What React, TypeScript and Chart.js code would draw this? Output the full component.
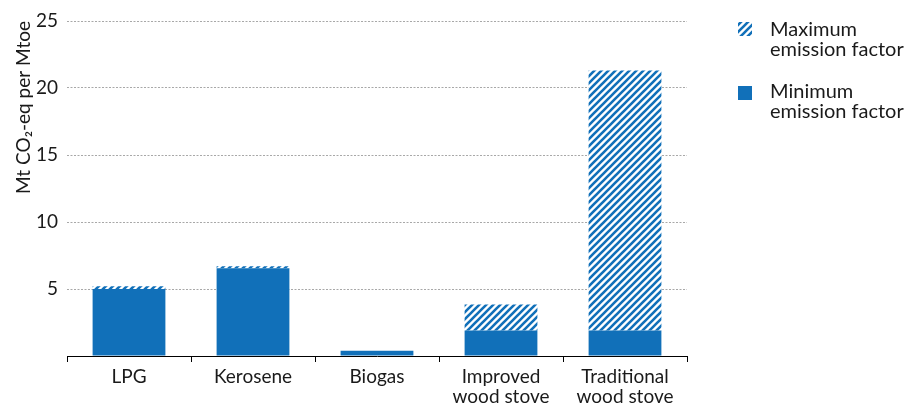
import React, { useEffect, useRef } from 'react';
import { Chart, registerables } from 'chart.js';

Chart.register(...registerables);

const categories: string[][] = [['LPG'], ['Kerosene'], ['Biogas'], ['Improved', 'wood stove'], ['Traditional', 'wood stove']];
const minimumFactor = [5.0, 6.55, 0.4, 1.9, 1.9];
const maximumFactor = [5.2, 6.7, 0.4, 3.85, 21.3];
const maxLegend = ['Maximum', 'emission factor'];
const minLegend = ['Minimum', 'emission factor'];
const yTitle = 'Mt CO\u2082-eq per Mtoe';

const BLUE = '#1170b9';
const FONT = 'Lato, "Open Sans", sans-serif';

function makeHatch(color: string): CanvasPattern | string {
  const s = 7;
  const c = document.createElement('canvas');
  c.width = s;
  c.height = s;
  const g = c.getContext('2d');
  if (!g) return color;
  g.fillStyle = '#ffffff';
  g.fillRect(0, 0, s, s);
  g.strokeStyle = color;
  g.lineWidth = 2.6;
  g.beginPath();
  for (const k of [0, s, 2 * s]) {
    g.moveTo(k - s - 2, s + 2);
    g.lineTo(k + 2, -2);
  }
  g.stroke();
  const p = g.createPattern(c, 'repeat');
  return p || color;
}

export default function App() {
  const ref = useRef<HTMLCanvasElement>(null);

  useEffect(() => {
    if (!ref.current) return;
    const hatch = makeHatch(BLUE);
    const extra = maximumFactor.map((v, i) => Math.max(0, +(v - minimumFactor[i]).toFixed(3)));

    const legendPlugin = {
      id: 'customLegend',
      afterDraw(chart: any) {
        const ctx = chart.ctx as CanvasRenderingContext2D;
        ctx.save();
        ctx.fillStyle = hatch as any;
        ctx.fillRect(738, 22, 14, 14);
        ctx.fillStyle = BLUE;
        ctx.fillRect(738, 86, 14, 14);
        ctx.fillStyle = '#1a1a1a';
        ctx.font = `20px ${FONT}`;
        ctx.textBaseline = 'middle';
        ctx.textAlign = 'left';
        maxLegend.forEach((t, i) => ctx.fillText(t, 770, 30 + i * 20));
        minLegend.forEach((t, i) => ctx.fillText(t, 770, 92 + i * 20));
        ctx.restore();
      },
    };

    const chart = new Chart(ref.current, {
      type: 'bar',
      data: {
        labels: categories,
        datasets: [
          {
            label: minLegend.join(' '),
            data: minimumFactor,
            backgroundColor: BLUE,
            borderWidth: 0,
            barPercentage: 0.587,
            categoryPercentage: 1,
          },
          {
            label: maxLegend.join(' '),
            data: extra,
            backgroundColor: hatch as any,
            borderWidth: 0,
            barPercentage: 0.587,
            categoryPercentage: 1,
          },
        ],
      },
      options: {
        animation: false,
        responsive: false,
        maintainAspectRatio: false,
        layout: { padding: { top: 21, right: 220, left: 0, bottom: 0 } },
        plugins: {
          legend: { display: false },
          tooltip: { enabled: false },
        },
        scales: {
          x: {
            stacked: true,
            afterFit: (scale: any) => {
              scale.height = 47;
            },
            grid: {
              drawOnChartArea: false,
              drawTicks: true,
              tickLength: 6,
              color: '#000',
              lineWidth: 1,
            },
            border: { display: true, color: '#000', width: 1 },
            ticks: {
              color: '#1a1a1a',
              font: { family: FONT, size: 19, lineHeight: 1.05 },
              padding: 5,
              maxRotation: 0,
              autoSkip: false,
            },
          },
          y: {
            stacked: true,
            min: 0,
            max: 25,
            afterFit: (scale: any) => {
              scale.width = 67;
            },
            border: { display: false, dash: [2, 1.5] },
            grid: {
              drawTicks: false,
              color: (c: any) => (c.tick && c.tick.value === 0 ? 'rgba(0,0,0,0)' : '#a8a8a8'),
              lineWidth: 1,
            },
            ticks: {
              stepSize: 5,
              padding: 9,
              color: '#1a1a1a',
              font: { family: FONT, size: 19 },
              callback: (v: any) => (v === 0 ? '' : String(v)),
            },
            title: {
              display: true,
              text: yTitle,
              align: 'end',
              color: '#1a1a1a',
              font: { family: FONT, size: 19 },
              padding: { top: 12, bottom: 0 },
            },
          },
        },
      },
      plugins: [legendPlugin],
    } as any);

    return () => chart.destroy();
  }, []);

  return (
    <div style={{ position: 'fixed', left: 0, top: 0, width: 907, height: 403, background: '#fff' }}>
      <canvas ref={ref} width={907} height={403} />
    </div>
  );
}
